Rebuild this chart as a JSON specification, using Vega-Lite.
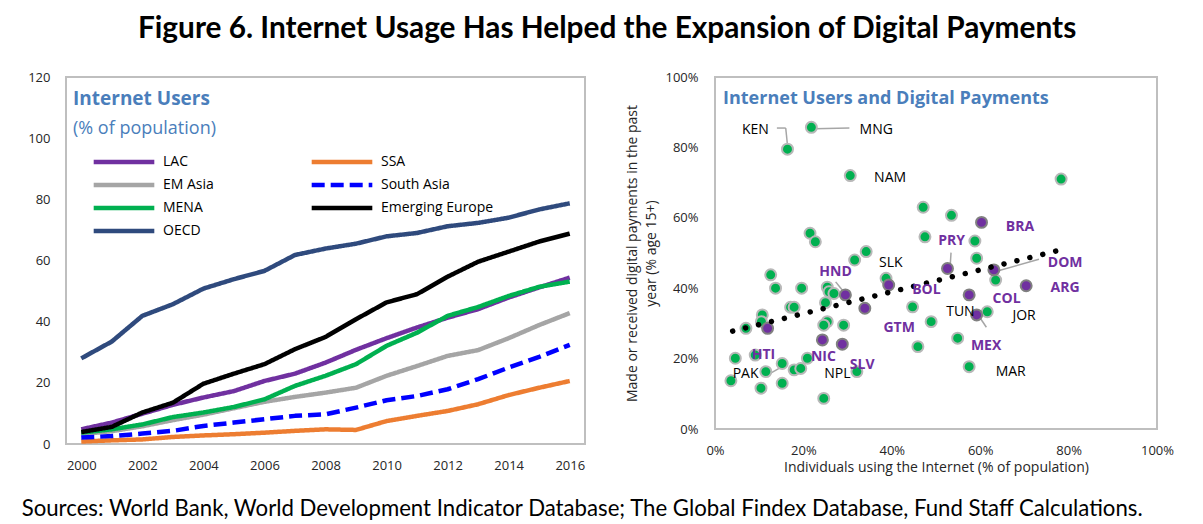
{
  "$schema": "https://vega.github.io/schema/vega-lite/v6.json",
  "background": "white",
  "padding": {"left": 21, "top": 14, "right": 10, "bottom": 5},
  "config": {
    "font": "Open Sans",
    "view": {"stroke": "#bfbfbf", "strokeWidth": 2},
    "axis": {"grid": false, "ticks": false, "domain": false, "labelFlush": false, "labelFont": "Open Sans", "labelFontSize": 13, "labelColor": "#262626", "titleFont": "Open Sans", "titleFontWeight": "normal", "titleColor": "#262626"}
  },
  "title": {"text": "Figure 6. Internet Usage Has Helped the Expansion of Digital Payments", "font": "Lato", "fontSize": 29.8, "fontWeight": "bold", "color": "#000000", "anchor": "middle", "offset": 26, "dx": 9},
  "vconcat": [
    {
      "title": {"text": "Sources: World Bank, World Development Indicator Database; The Global Findex Database, Fund Staff Calculations.", "orient": "bottom", "anchor": "start", "font": "Lato", "fontSize": 22.2, "fontWeight": "normal", "color": "#000000", "offset": 23, "dx": -5},
      "hconcat": [
        {
          "width": 519,
          "height": 367,
          "title": {"text": "Internet Users", "subtitle": "(% of population)", "anchor": "start", "frame": "group", "orient": "top", "offset": -67, "dx": 7, "font": "Open Sans", "fontSize": 19, "fontWeight": "bold", "color": "#4a7ebb", "subtitleFont": "Open Sans", "subtitleFontSize": 18, "subtitleColor": "#4a7ebb", "subtitlePadding": 11},
          "data": {"values": [
            {"series":"OECD","year":2000,"value":28.0},{"series":"OECD","year":2001,"value":33.5},{"series":"OECD","year":2002,"value":41.9},{"series":"OECD","year":2003,"value":45.7},{"series":"OECD","year":2004,"value":50.8},{"series":"OECD","year":2005,"value":53.9},{"series":"OECD","year":2006,"value":56.6},{"series":"OECD","year":2007,"value":61.8},{"series":"OECD","year":2008,"value":63.9},{"series":"OECD","year":2009,"value":65.5},{"series":"OECD","year":2010,"value":67.9},{"series":"OECD","year":2011,"value":69.0},{"series":"OECD","year":2012,"value":71.2},{"series":"OECD","year":2013,"value":72.3},{"series":"OECD","year":2014,"value":74.0},{"series":"OECD","year":2015,"value":76.7},{"series":"OECD","year":2016,"value":78.7},
            {"series":"EM Asia","year":2000,"value":3.2},{"series":"EM Asia","year":2001,"value":4.2},{"series":"EM Asia","year":2002,"value":5.8},{"series":"EM Asia","year":2003,"value":7.8},{"series":"EM Asia","year":2004,"value":9.6},{"series":"EM Asia","year":2005,"value":11.7},{"series":"EM Asia","year":2006,"value":13.8},{"series":"EM Asia","year":2007,"value":15.4},{"series":"EM Asia","year":2008,"value":16.8},{"series":"EM Asia","year":2009,"value":18.4},{"series":"EM Asia","year":2010,"value":22.3},{"series":"EM Asia","year":2011,"value":25.5},{"series":"EM Asia","year":2012,"value":28.8},{"series":"EM Asia","year":2013,"value":30.7},{"series":"EM Asia","year":2014,"value":34.6},{"series":"EM Asia","year":2015,"value":38.9},{"series":"EM Asia","year":2016,"value":42.8},
            {"series":"LAC","year":2000,"value":4.8},{"series":"LAC","year":2001,"value":7.0},{"series":"LAC","year":2002,"value":9.9},{"series":"LAC","year":2003,"value":12.8},{"series":"LAC","year":2004,"value":15.2},{"series":"LAC","year":2005,"value":17.3},{"series":"LAC","year":2006,"value":20.6},{"series":"LAC","year":2007,"value":23.0},{"series":"LAC","year":2008,"value":26.6},{"series":"LAC","year":2009,"value":30.8},{"series":"LAC","year":2010,"value":34.6},{"series":"LAC","year":2011,"value":38.1},{"series":"LAC","year":2012,"value":41.3},{"series":"LAC","year":2013,"value":44.1},{"series":"LAC","year":2014,"value":47.9},{"series":"LAC","year":2015,"value":51.2},{"series":"LAC","year":2016,"value":54.4},
            {"series":"MENA","year":2000,"value":3.7},{"series":"MENA","year":2001,"value":4.8},{"series":"MENA","year":2002,"value":6.4},{"series":"MENA","year":2003,"value":8.8},{"series":"MENA","year":2004,"value":10.3},{"series":"MENA","year":2005,"value":12.1},{"series":"MENA","year":2006,"value":14.6},{"series":"MENA","year":2007,"value":19.0},{"series":"MENA","year":2008,"value":22.3},{"series":"MENA","year":2009,"value":26.1},{"series":"MENA","year":2010,"value":32.1},{"series":"MENA","year":2011,"value":36.4},{"series":"MENA","year":2012,"value":41.9},{"series":"MENA","year":2013,"value":44.8},{"series":"MENA","year":2014,"value":48.4},{"series":"MENA","year":2015,"value":51.4},{"series":"MENA","year":2016,"value":53.1},
            {"series":"SSA","year":2000,"value":0.8},{"series":"SSA","year":2001,"value":1.2},{"series":"SSA","year":2002,"value":1.5},{"series":"SSA","year":2003,"value":2.3},{"series":"SSA","year":2004,"value":2.8},{"series":"SSA","year":2005,"value":3.2},{"series":"SSA","year":2006,"value":3.7},{"series":"SSA","year":2007,"value":4.3},{"series":"SSA","year":2008,"value":4.8},{"series":"SSA","year":2009,"value":4.6},{"series":"SSA","year":2010,"value":7.5},{"series":"SSA","year":2011,"value":9.2},{"series":"SSA","year":2012,"value":10.8},{"series":"SSA","year":2013,"value":13.0},{"series":"SSA","year":2014,"value":16.0},{"series":"SSA","year":2015,"value":18.4},{"series":"SSA","year":2016,"value":20.6},
            {"series":"South Asia","year":2000,"value":2.1},{"series":"South Asia","year":2001,"value":2.6},{"series":"South Asia","year":2002,"value":3.4},{"series":"South Asia","year":2003,"value":4.3},{"series":"South Asia","year":2004,"value":5.9},{"series":"South Asia","year":2005,"value":7.0},{"series":"South Asia","year":2006,"value":8.1},{"series":"South Asia","year":2007,"value":9.2},{"series":"South Asia","year":2008,"value":9.7},{"series":"South Asia","year":2009,"value":11.9},{"series":"South Asia","year":2010,"value":14.3},{"series":"South Asia","year":2011,"value":15.7},{"series":"South Asia","year":2012,"value":17.9},{"series":"South Asia","year":2013,"value":21.2},{"series":"South Asia","year":2014,"value":25.0},{"series":"South Asia","year":2015,"value":28.5},{"series":"South Asia","year":2016,"value":32.4},
            {"series":"Emerging Europe","year":2000,"value":3.9},{"series":"Emerging Europe","year":2001,"value":5.6},{"series":"Emerging Europe","year":2002,"value":10.3},{"series":"Emerging Europe","year":2003,"value":13.5},{"series":"Emerging Europe","year":2004,"value":19.7},{"series":"Emerging Europe","year":2005,"value":23.0},{"series":"Emerging Europe","year":2006,"value":26.1},{"series":"Emerging Europe","year":2007,"value":31.0},{"series":"Emerging Europe","year":2008,"value":35.0},{"series":"Emerging Europe","year":2009,"value":40.8},{"series":"Emerging Europe","year":2010,"value":46.3},{"series":"Emerging Europe","year":2011,"value":49.0},{"series":"Emerging Europe","year":2012,"value":54.7},{"series":"Emerging Europe","year":2013,"value":59.6},{"series":"Emerging Europe","year":2014,"value":62.9},{"series":"Emerging Europe","year":2015,"value":66.2},{"series":"Emerging Europe","year":2016,"value":68.8}
          ]},
          "mark": {"type": "line", "strokeCap": "butt", "strokeJoin": "round"},
          "encoding": {
            "x": {"field": "year", "type": "quantitative", "scale": {"domain": [1999.5, 2016.5], "nice": false, "zero": false}, "axis": {"values": [2000,2002,2004,2006,2008,2010,2012,2014,2016], "format": "d", "title": null, "labelPadding": 15}},
            "y": {"field": "value", "type": "quantitative", "scale": {"domain": [0, 120], "nice": false}, "axis": {"values": [0,20,40,60,80,100,120], "title": null, "labelPadding": 16}},
            "color": {"field": "series", "type": "nominal", "title": null,
              "scale": {"domain": ["LAC","EM Asia","MENA","OECD","SSA","South Asia","Emerging Europe"], "range": ["#7030a0","#a5a5a5","#00b050","#2f4a7d","#ed7d31","#0000ff","#000000"]},
              "legend": {"orient": "none", "legendX": 47, "legendY": 74, "columns": 2, "columnPadding": 88, "rowPadding": 3, "padding": 0, "symbolType": "M-3.5,0L3.5,0", "symbolSize": 300, "labelFont": "Open Sans", "labelFontSize": 14, "labelColor": "#000000", "labelOffset": 28}},
            "strokeDash": {"field": "series", "type": "nominal", "title": null,
              "scale": {"domain": ["LAC","EM Asia","MENA","OECD","SSA","South Asia","Emerging Europe"], "range": [[1,0],[1,0],[1,0],[1,0],[1,0],[13,6],[1,0]]}},
            "strokeWidth": {"field": "series", "type": "nominal", "title": null,
              "scale": {"domain": ["LAC","EM Asia","MENA","OECD","SSA","South Asia","Emerging Europe"], "range": [4.5,4.5,4.5,4.5,4.5,4.5,2.5]}}
          }
        },
        {
          "width": 442,
          "height": 352,
          "title": {"text": "Internet Users and Digital Payments", "anchor": "start", "frame": "group", "orient": "top", "offset": -37, "dx": 8, "font": "Open Sans", "fontSize": 18, "fontWeight": "bold", "color": "#4a7ebb"},
          "layer": [
            {
              "data": {"values": [
                {"x":14.0,"y":85.5,"xe":16.0,"ye":85.5},{"x":16.0,"y":85.5,"xe":16.4,"ye":80.6},
                {"x":22.5,"y":85.3,"xe":30.4,"ye":85.5},
                {"x":27.3,"y":41.8,"xe":29.1,"ye":39.0},
                {"x":63.9,"y":44.9,"xe":73.3,"ye":48.2},
                {"x":53.4,"y":50.1,"xe":53.2,"ye":46.1},
                {"x":59.8,"y":31.9,"xe":61.4,"ye":28.9},
                {"x":12.2,"y":15.6,"xe":15.6,"ye":18.0}
              ]},
              "mark": {"type": "rule", "color": "#a6a6a6", "strokeWidth": 1.5},
              "encoding": {
                "x": {"field": "x", "type": "quantitative"},
                "y": {"field": "y", "type": "quantitative"},
                "x2": {"field": "xe"},
                "y2": {"field": "ye"}
              }
            },
            {
              "data": {"values": [
                {"x":16.4,"y":79.5,"g":"Other"},{"x":21.8,"y":85.7,"g":"Other"},{"x":30.6,"y":72.0,"g":"Other"},
                {"x":21.5,"y":55.6,"g":"Other"},{"x":22.7,"y":53.2,"g":"Other"},{"x":34.2,"y":50.4,"g":"Other"},{"x":31.6,"y":48.0,"g":"Other"},
                {"x":78.3,"y":71.0,"g":"Other"},{"x":47.1,"y":63.0,"g":"Other"},{"x":53.5,"y":60.7,"g":"Other"},{"x":47.5,"y":54.6,"g":"Other"},
                {"x":58.8,"y":53.4,"g":"Other"},{"x":59.2,"y":48.5,"g":"Other"},{"x":63.5,"y":42.3,"g":"Other"},{"x":38.7,"y":42.8,"g":"Other"},
                {"x":44.7,"y":34.7,"g":"Other"},{"x":48.9,"y":30.5,"g":"Other"},{"x":45.9,"y":23.4,"g":"Other"},{"x":61.6,"y":33.3,"g":"Other"},
                {"x":54.9,"y":25.8,"g":"Other"},{"x":57.5,"y":17.7,"g":"Other"},{"x":32.1,"y":16.3,"g":"Other"},{"x":12.6,"y":43.8,"g":"Other"},
                {"x":13.7,"y":40.0,"g":"Other"},{"x":19.6,"y":40.0,"g":"Other"},{"x":25.4,"y":40.3,"g":"Other"},{"x":25.8,"y":39.0,"g":"Other"},
                {"x":26.9,"y":38.5,"g":"Other"},{"x":25.0,"y":35.9,"g":"Other"},{"x":17.1,"y":34.6,"g":"Other"},{"x":17.9,"y":34.6,"g":"Other"},
                {"x":10.7,"y":32.4,"g":"Other"},{"x":10.5,"y":30.5,"g":"Other"},{"x":7.0,"y":28.6,"g":"Other"},{"x":25.4,"y":30.5,"g":"Other"},
                {"x":24.6,"y":29.5,"g":"Other"},{"x":29.1,"y":29.5,"g":"Other"},{"x":4.6,"y":20.1,"g":"Other"},{"x":9.1,"y":21.0,"g":"Other"},
                {"x":15.2,"y":18.6,"g":"Other"},{"x":11.5,"y":16.3,"g":"Other"},{"x":17.9,"y":16.8,"g":"Other"},{"x":19.4,"y":17.2,"g":"Other"},
                {"x":20.9,"y":20.1,"g":"Other"},{"x":3.6,"y":13.7,"g":"Other"},{"x":10.4,"y":11.6,"g":"Other"},{"x":15.2,"y":13.0,"g":"Other"},
                {"x":24.6,"y":8.7,"g":"Other"},
                {"x":60.3,"y":58.7,"g":"LAC"},{"x":52.6,"y":45.6,"g":"LAC"},{"x":63.1,"y":45.2,"g":"LAC"},{"x":70.4,"y":40.7,"g":"LAC"},
                {"x":39.3,"y":40.9,"g":"LAC"},{"x":33.9,"y":34.3,"g":"LAC"},{"x":57.5,"y":38.1,"g":"LAC"},{"x":59.2,"y":32.4,"g":"LAC"},
                {"x":29.5,"y":38.1,"g":"LAC"},{"x":11.9,"y":28.6,"g":"LAC"},{"x":24.3,"y":25.3,"g":"LAC"},{"x":28.8,"y":24.1,"g":"LAC"}
              ]},
              "mark": {"type": "point", "filled": true, "size": 120, "strokeWidth": 2, "opacity": 1},
              "encoding": {
                "x": {"field": "x", "type": "quantitative", "scale": {"domain": [0, 100], "nice": false}, "axis": {"values": [0,20,40,60,80,100], "labelExpr": "datum.value + '%'", "title": "Individuals  using the Internet (% of population)", "titleFontSize": 14, "titlePadding": 3, "labelPadding": 15}},
                "y": {"field": "y", "type": "quantitative", "scale": {"domain": [0, 100], "nice": false}, "axis": {"values": [0,10,20,30,40,50,60,70,80,90,100], "labelExpr": "datum.value + '%'", "title": ["Made or received digital  payments in the past", "year (% age 15+)"], "titleFontSize": 14, "titleLineHeight": 19, "titlePadding": 6, "labelPadding": 17}},
                "fill": {"field": "g", "type": "nominal", "scale": {"domain": ["Other","LAC"], "range": ["#00b050","#7030a0"]}, "legend": null},
                "stroke": {"field": "g", "type": "nominal", "scale": {"domain": ["Other","LAC"], "range": ["#b8b8b8","#808080"]}, "legend": null}
              }
            },
            {
              "data": {"values": [{"x":4.0,"y":27.8},{"x":78.3,"y":50.9}]},
              "mark": {"type": "line", "color": "#000000", "strokeWidth": 5.5, "strokeDash": [0.01, 13.3], "strokeCap": "round"},
              "encoding": {
                "x": {"field": "x", "type": "quantitative"},
                "y": {"field": "y", "type": "quantitative"}
              }
            },
            {
              "data": {"values": [
                {"label":"KEN","x":6.1,"y":84.9,"g":"Other"},{"label":"MNG","x":32.7,"y":84.9,"g":"Other"},{"label":"NAM","x":36.0,"y":71.3,"g":"Other"},
                {"label":"SLK","x":37.1,"y":47.1,"g":"Other"},{"label":"TUN","x":52.3,"y":33.3,"g":"Other"},{"label":"JOR","x":67.3,"y":32.1,"g":"Other"},
                {"label":"MAR","x":63.5,"y":16.3,"g":"Other"},{"label":"NPL","x":24.7,"y":15.6,"g":"Other"},{"label":"PAK","x":4.0,"y":15.6,"g":"Other"},
                {"label":"HND","x":23.6,"y":44.7,"g":"LAC"},{"label":"PRY","x":50.5,"y":53.5,"g":"LAC"},{"label":"BRA","x":65.8,"y":57.5,"g":"LAC"},
                {"label":"DOM","x":75.3,"y":47.2,"g":"LAC"},{"label":"ARG","x":75.9,"y":40.0,"g":"LAC"},{"label":"COL","x":62.8,"y":36.9,"g":"LAC"},
                {"label":"BOL","x":44.6,"y":39.5,"g":"LAC"},{"label":"MEX","x":57.9,"y":23.6,"g":"LAC"},{"label":"GTM","x":38.1,"y":28.6,"g":"LAC"},
                {"label":"SLV","x":30.5,"y":18.2,"g":"LAC"},{"label":"NIC","x":21.7,"y":20.4,"g":"LAC"},{"label":"HTI","x":8.3,"y":21.0,"g":"LAC"}
              ]},
              "layer": [
                {
                  "transform": [{"filter": "datum.g == 'Other'"}],
                  "mark": {"type": "text", "align": "left", "baseline": "middle", "font": "Open Sans", "fontSize": 14, "color": "#000000"},
                  "encoding": {
                    "x": {"field": "x", "type": "quantitative"},
                    "y": {"field": "y", "type": "quantitative"},
                    "text": {"field": "label"}
                  }
                },
                {
                  "transform": [{"filter": "datum.g == 'LAC'"}],
                  "mark": {"type": "text", "align": "left", "baseline": "middle", "font": "Open Sans", "fontSize": 14, "fontWeight": "bold", "color": "#7030a0"},
                  "encoding": {
                    "x": {"field": "x", "type": "quantitative"},
                    "y": {"field": "y", "type": "quantitative"},
                    "text": {"field": "label"}
                  }
                }
              ]
            }
          ]
        }
      ],
      "bounds": "flush",
      "spacing": 130
    }
  ]
}
